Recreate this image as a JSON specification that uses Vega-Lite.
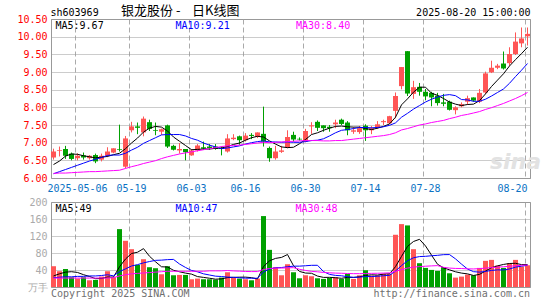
{
"$schema":"https://vega.github.io/schema/vega-lite/v6.json",
"background":"white",
"padding":{"left":16,"top":4,"right":10,"bottom":0},
"config":{"view":{"stroke":"#999999","strokeWidth":1},"font":"DejaVu Sans Mono","axis":{"labelFont":"DejaVu Sans Mono","labelFontSize":10,"ticks":false,"domain":false,"title":null,"gridColor":"#aaaaaa","gridWidth":1,"labelOverlap":false}},
"datasets":{"k":[
{"d":"2025-04-25","o":6.58,"h":6.83,"l":6.52,"c":6.75,"v":48.9,"m5":6.38,"m10":6.12,"m30":6.13,"vm5":26,"vm10":22,"vm30":21},
{"d":"2025-04-28","o":6.77,"h":6.89,"l":6.61,"c":6.79,"v":37.1,"m5":6.48,"m10":6.18,"m30":6.14,"vm5":31,"vm10":23,"vm30":21},
{"d":"2025-04-29","o":6.82,"h":6.91,"l":6.54,"c":6.63,"v":42.5,"m5":6.62,"m10":6.24,"m30":6.14,"vm5":35,"vm10":24,"vm30":21},
{"d":"2025-04-30","o":6.69,"h":6.72,"l":6.50,"c":6.54,"v":22.9,"m5":6.68,"m10":6.30,"m30":6.15,"vm5":36,"vm10":24,"vm30":21},
{"d":"2025-05-06","o":6.56,"h":6.70,"l":6.50,"c":6.63,"v":19.8,"m5":6.67,"m10":6.36,"m30":6.16,"vm5":34.2,"vm10":25,"vm30":21},
{"d":"2025-05-07","o":6.64,"h":6.72,"l":6.52,"c":6.58,"v":22.9,"m5":6.63,"m10":6.42,"m30":6.17,"vm5":29.0,"vm10":25,"vm30":21},
{"d":"2025-05-08","o":6.56,"h":6.65,"l":6.52,"c":6.63,"v":15.8,"m5":6.60,"m10":6.48,"m30":6.18,"vm5":24.8,"vm10":26,"vm30":21},
{"d":"2025-05-09","o":6.65,"h":6.69,"l":6.42,"c":6.47,"v":16.6,"m5":6.57,"m10":6.53,"m30":6.18,"vm5":19.6,"vm10":26,"vm30":21},
{"d":"2025-05-12","o":6.52,"h":6.69,"l":6.47,"c":6.63,"v":24.5,"m5":6.59,"m10":6.58,"m30":6.19,"vm5":19.9,"vm10":27,"vm30":21},
{"d":"2025-05-13","o":6.63,"h":6.87,"l":6.59,"c":6.75,"v":37.1,"m5":6.61,"m10":6.64,"m30":6.20,"vm5":23.4,"vm10":28.8,"vm30":21},
{"d":"2025-05-14","o":6.72,"h":6.84,"l":6.70,"c":6.84,"v":22.9,"m5":6.66,"m10":6.65,"m30":6.21,"vm5":23.4,"vm10":26.2,"vm30":22},
{"d":"2025-05-15","o":6.82,"h":7.51,"l":6.75,"c":6.80,"v":136.2,"m5":6.70,"m10":6.65,"m30":6.22,"vm5":47.5,"vm10":36.1,"vm30":26},
{"d":"2025-05-16","o":6.32,"h":7.19,"l":6.27,"c":7.12,"v":108.7,"m5":6.83,"m10":6.70,"m30":6.27,"vm5":65.9,"vm10":42.7,"vm30":29},
{"d":"2025-05-19","o":7.35,"h":7.59,"l":7.29,"c":7.46,"v":89.0,"m5":6.99,"m10":6.79,"m30":6.32,"vm5":78.8,"vm10":49.4,"vm30":31},
{"d":"2025-05-20","o":7.46,"h":7.57,"l":7.24,"c":7.42,"v":52.0,"m5":7.13,"m10":6.87,"m30":6.36,"vm5":81.8,"vm10":52.6,"vm30":32},
{"d":"2025-05-21","o":7.29,"h":7.74,"l":7.18,"c":7.68,"v":65.4,"m5":7.30,"m10":6.98,"m30":6.41,"vm5":90.3,"vm10":56.8,"vm30":33},
{"d":"2025-05-22","o":7.58,"h":7.65,"l":7.33,"c":7.39,"v":46.5,"m5":7.41,"m10":7.06,"m30":6.45,"vm5":72.3,"vm10":59.9,"vm30":34},
{"d":"2025-05-23","o":7.35,"h":7.57,"l":7.21,"c":7.33,"v":44.2,"m5":7.46,"m10":7.14,"m30":6.49,"vm5":59.4,"vm10":62.7,"vm30":35},
{"d":"2025-05-26","o":7.31,"h":7.40,"l":7.22,"c":7.38,"v":30.0,"m5":7.44,"m10":7.22,"m30":6.55,"vm5":47.6,"vm10":63.2,"vm30":36},
{"d":"2025-05-27","o":7.49,"h":7.51,"l":6.85,"c":6.89,"v":48.9,"m5":7.33,"m10":7.23,"m30":6.60,"vm5":47.0,"vm10":64.4,"vm30":37},
{"d":"2025-05-28","o":6.91,"h":6.94,"l":6.78,"c":6.80,"v":27.6,"m5":7.16,"m10":7.23,"m30":6.64,"vm5":39.4,"vm10":64.9,"vm30":37},
{"d":"2025-05-29","o":6.78,"h":6.99,"l":6.69,"c":6.82,"v":28.4,"m5":7.04,"m10":7.23,"m30":6.68,"vm5":35.8,"vm10":54.1,"vm30":37},
{"d":"2025-05-30","o":6.82,"h":6.82,"l":6.50,"c":6.73,"v":28.4,"m5":6.92,"m10":7.19,"m30":6.71,"vm5":32.7,"vm10":46.0,"vm30":37},
{"d":"2025-06-03","o":6.64,"h":6.82,"l":6.63,"c":6.78,"v":18.2,"m5":6.80,"m10":7.12,"m30":6.74,"vm5":30.3,"vm10":39.0,"vm30":37},
{"d":"2025-06-04","o":6.78,"h":6.96,"l":6.75,"c":6.92,"v":19.8,"m5":6.81,"m10":7.07,"m30":6.77,"vm5":24.5,"vm10":35.7,"vm30":37},
{"d":"2025-06-05","o":6.87,"h":7.03,"l":6.80,"c":6.83,"v":18.2,"m5":6.82,"m10":6.99,"m30":6.80,"vm5":22.6,"vm10":31.0,"vm30":37},
{"d":"2025-06-06","o":6.89,"h":6.96,"l":6.80,"c":6.85,"v":18.2,"m5":6.82,"m10":6.93,"m30":6.83,"vm5":20.6,"vm10":28.2,"vm30":38},
{"d":"2025-06-09","o":6.89,"h":6.96,"l":6.80,"c":6.82,"v":17.4,"m5":6.84,"m10":6.88,"m30":6.86,"vm5":18.4,"vm10":25.5,"vm30":38},
{"d":"2025-06-10","o":6.85,"h":6.89,"l":6.64,"c":6.82,"v":22.1,"m5":6.85,"m10":6.83,"m30":6.89,"vm5":19.1,"vm10":24.7,"vm30":38},
{"d":"2025-06-11","o":6.75,"h":7.24,"l":6.72,"c":7.12,"v":34.7,"m5":6.89,"m10":6.85,"m30":6.91,"vm5":22.1,"vm10":23.3,"vm30":38.8},
{"d":"2025-06-12","o":7.10,"h":7.24,"l":7.07,"c":7.14,"v":21.3,"m5":6.95,"m10":6.88,"m30":6.92,"vm5":22.7,"vm10":22.7,"vm30":37.9},
{"d":"2025-06-13","o":7.18,"h":7.20,"l":6.94,"c":7.07,"v":19.8,"m5":6.99,"m10":6.91,"m30":6.93,"vm5":23.1,"vm10":21.8,"vm30":37.3},
{"d":"2025-06-16","o":7.07,"h":7.27,"l":7.03,"c":7.20,"v":18.2,"m5":7.07,"m10":6.96,"m30":6.95,"vm5":23.2,"vm10":20.8,"vm30":36.5},
{"d":"2025-06-17","o":7.22,"h":7.27,"l":7.10,"c":7.19,"v":15.8,"m5":7.14,"m10":7.00,"m30":6.97,"vm5":22.0,"vm10":20.6,"vm30":36.3},
{"d":"2025-06-18","o":7.16,"h":7.29,"l":7.13,"c":7.29,"v":19.8,"m5":7.18,"m10":7.03,"m30":6.99,"vm5":19.0,"vm10":20.6,"vm30":36.3},
{"d":"2025-06-19","o":7.25,"h":8.02,"l":6.89,"c":7.03,"v":166.9,"m5":7.16,"m10":7.05,"m30":7.01,"vm5":48.1,"vm10":35.4,"vm30":41.1},
{"d":"2025-06-20","o":6.85,"h":6.89,"l":6.46,"c":6.56,"v":87.4,"m5":7.05,"m10":7.02,"m30":7.00,"vm5":61.6,"vm10":42.3,"vm30":43.5},
{"d":"2025-06-23","o":6.56,"h":6.91,"l":6.52,"c":6.75,"v":46.5,"m5":6.96,"m10":7.02,"m30":7.01,"vm5":67.3,"vm10":45.3,"vm30":44.5},
{"d":"2025-06-24","o":6.74,"h":6.91,"l":6.71,"c":6.78,"v":27.6,"m5":6.88,"m10":7.01,"m30":7.02,"vm5":69.6,"vm10":45.8,"vm30":44.6},
{"d":"2025-06-25","o":6.87,"h":7.35,"l":6.84,"c":7.16,"v":53.6,"m5":6.86,"m10":7.02,"m30":7.03,"vm5":76.4,"vm10":47.7,"vm30":45.1},
{"d":"2025-06-26","o":7.22,"h":7.31,"l":7.03,"c":7.09,"v":34.7,"m5":6.87,"m10":7.01,"m30":7.04,"vm5":50.0,"vm10":49.0,"vm30":45.5},
{"d":"2025-06-27","o":7.11,"h":7.15,"l":7.06,"c":7.09,"v":20.5,"m5":6.97,"m10":7.01,"m30":7.05,"vm5":36.6,"vm10":49.1,"vm30":41.7},
{"d":"2025-06-30","o":7.03,"h":7.39,"l":7.01,"c":7.33,"v":27.6,"m5":7.09,"m10":7.03,"m30":7.06,"vm5":32.8,"vm10":50.0,"vm30":39.0},
{"d":"2025-07-01","o":7.46,"h":7.58,"l":7.25,"c":7.49,"v":25.3,"m5":7.23,"m10":7.06,"m30":7.06,"vm5":32.3,"vm10":51.0,"vm30":36.8},
{"d":"2025-07-02","o":7.59,"h":7.63,"l":7.33,"c":7.42,"v":20.5,"m5":7.28,"m10":7.07,"m30":7.06,"vm5":25.7,"vm10":51.1,"vm30":35.8},
{"d":"2025-07-03","o":7.49,"h":7.49,"l":7.31,"c":7.41,"v":19.0,"m5":7.35,"m10":7.11,"m30":7.05,"vm5":22.6,"vm10":36.3,"vm30":34.2},
{"d":"2025-07-04","o":7.45,"h":7.50,"l":7.31,"c":7.41,"v":21.3,"m5":7.41,"m10":7.19,"m30":7.05,"vm5":22.7,"vm10":29.7,"vm30":33.4},
{"d":"2025-07-07","o":7.52,"h":7.65,"l":7.41,"c":7.57,"v":22.9,"m5":7.46,"m10":7.28,"m30":7.06,"vm5":21.8,"vm10":27.3,"vm30":32.7},
{"d":"2025-07-08","o":7.65,"h":7.68,"l":7.50,"c":7.53,"v":19.0,"m5":7.47,"m10":7.35,"m30":7.06,"vm5":20.5,"vm10":26.4,"vm30":32.3},
{"d":"2025-07-09","o":7.57,"h":7.61,"l":7.21,"c":7.35,"v":30.8,"m5":7.45,"m10":7.37,"m30":7.08,"vm5":22.6,"vm10":24.2,"vm30":31.7},
{"d":"2025-07-10","o":7.31,"h":7.44,"l":7.25,"c":7.35,"v":19.0,"m5":7.44,"m10":7.40,"m30":7.10,"vm5":22.6,"vm10":22.6,"vm30":31.4},
{"d":"2025-07-11","o":7.30,"h":7.47,"l":7.25,"c":7.41,"v":27.6,"m5":7.44,"m10":7.43,"m30":7.12,"vm5":23.9,"vm10":23.3,"vm30":31.4},
{"d":"2025-07-14","o":7.48,"h":7.52,"l":7.05,"c":7.35,"v":39.4,"m5":7.40,"m10":7.43,"m30":7.14,"vm5":27.2,"vm10":24.5,"vm30":31.8},
{"d":"2025-07-15","o":7.35,"h":7.47,"l":7.24,"c":7.41,"v":26.8,"m5":7.37,"m10":7.42,"m30":7.16,"vm5":28.7,"vm10":24.6,"vm30":32.1},
{"d":"2025-07-16","o":7.42,"h":7.61,"l":7.39,"c":7.52,"v":27.6,"m5":7.41,"m10":7.43,"m30":7.18,"vm5":28.1,"vm10":25.3,"vm30":32.3},
{"d":"2025-07-17","o":7.58,"h":7.65,"l":7.50,"c":7.61,"v":30.8,"m5":7.46,"m10":7.45,"m30":7.20,"vm5":30.4,"vm10":26.5,"vm30":32.7},
{"d":"2025-07-18","o":7.55,"h":7.76,"l":7.52,"c":7.75,"v":30.8,"m5":7.53,"m10":7.49,"m30":7.23,"vm5":31.1,"vm10":27.5,"vm30":33.2},
{"d":"2025-07-21","o":7.90,"h":8.42,"l":7.69,"c":8.32,"v":122.9,"m5":7.72,"m10":7.56,"m30":7.28,"vm5":47.8,"vm10":37.5,"vm30":36.7},
{"d":"2025-07-22","o":8.60,"h":9.14,"l":8.51,"c":9.14,"v":148.0,"m5":8.07,"m10":7.72,"m30":7.36,"vm5":72.0,"vm10":50.4,"vm30":40.9},
{"d":"2025-07-23","o":9.59,"h":9.59,"l":8.32,"c":8.39,"v":144.9,"m5":8.24,"m10":7.83,"m30":7.40,"vm5":95.5,"vm10":61.8,"vm30":44.5},
{"d":"2025-07-24","o":8.38,"h":8.75,"l":8.24,"c":8.57,"v":89.0,"m5":8.43,"m10":7.95,"m30":7.45,"vm5":107.1,"vm10":68.8,"vm30":46.8},
{"d":"2025-07-25","o":8.58,"h":8.69,"l":8.33,"c":8.44,"v":56.0,"m5":8.57,"m10":8.05,"m30":7.50,"vm5":112.2,"vm10":71.6,"vm30":48.0},
{"d":"2025-07-28","o":8.44,"h":8.52,"l":8.20,"c":8.31,"v":44.9,"m5":8.57,"m10":8.15,"m30":7.53,"vm5":96.6,"vm10":72.2,"vm30":48.9},
{"d":"2025-07-29","o":8.41,"h":8.44,"l":8.03,"c":8.28,"v":40.2,"m5":8.40,"m10":8.23,"m30":7.57,"vm5":75.0,"vm10":73.5,"vm30":49.7},
{"d":"2025-07-30","o":8.33,"h":8.41,"l":8.05,"c":8.12,"v":37.9,"m5":8.34,"m10":8.29,"m30":7.60,"vm5":53.6,"vm10":74.5,"vm30":50.3},
{"d":"2025-07-31","o":8.14,"h":8.38,"l":8.03,"c":8.10,"v":46.5,"m5":8.25,"m10":8.34,"m30":7.63,"vm5":45.1,"vm10":76.1,"vm30":46.3},
{"d":"2025-08-01","o":8.16,"h":8.19,"l":7.91,"c":7.93,"v":32.3,"m5":8.15,"m10":8.36,"m30":7.68,"vm5":40.4,"vm10":76.3,"vm30":44.5},
{"d":"2025-08-04","o":7.92,"h":8.03,"l":7.80,"c":8.00,"v":22.1,"m5":8.09,"m10":8.33,"m30":7.72,"vm5":35.8,"vm10":66.2,"vm30":43.7},
{"d":"2025-08-05","o":8.03,"h":8.14,"l":8.00,"c":8.09,"v":24.5,"m5":8.05,"m10":8.22,"m30":7.77,"vm5":32.7,"vm10":53.8,"vm30":43.5},
{"d":"2025-08-06","o":8.16,"h":8.33,"l":8.07,"c":8.26,"v":29.2,"m5":8.08,"m10":8.21,"m30":7.80,"vm5":30.9,"vm10":42.3,"vm30":42.7},
{"d":"2025-08-07","o":8.28,"h":8.28,"l":8.16,"c":8.19,"v":27.6,"m5":8.09,"m10":8.17,"m30":7.84,"vm5":27.1,"vm10":36.1,"vm30":42.5},
{"d":"2025-08-08","o":8.16,"h":8.52,"l":8.12,"c":8.41,"v":44.9,"m5":8.19,"m10":8.17,"m30":7.88,"vm5":29.7,"vm10":35.0,"vm30":43.3},
{"d":"2025-08-11","o":8.42,"h":9.01,"l":8.38,"c":8.96,"v":61.5,"m5":8.38,"m10":8.23,"m30":7.94,"vm5":37.5,"vm10":36.7,"vm30":44.4},
{"d":"2025-08-12","o":8.99,"h":9.32,"l":8.97,"c":9.12,"v":63.8,"m5":8.59,"m10":8.32,"m30":7.99,"vm5":45.4,"vm10":39.0,"vm30":45.7},
{"d":"2025-08-13","o":9.12,"h":9.23,"l":9.08,"c":9.18,"v":50.5,"m5":8.77,"m10":8.42,"m30":8.05,"vm5":49.7,"vm10":40.3,"vm30":46.7},
{"d":"2025-08-14","o":9.24,"h":9.58,"l":9.07,"c":9.10,"v":44.9,"m5":8.95,"m10":8.52,"m30":8.11,"vm5":53.1,"vm10":40.1,"vm30":47.6},
{"d":"2025-08-15","o":9.25,"h":9.70,"l":9.18,"c":9.51,"v":56.0,"m5":9.17,"m10":8.68,"m30":8.18,"vm5":55.3,"vm10":42.5,"vm30":48.7},
{"d":"2025-08-18","o":9.51,"h":10.12,"l":9.48,"c":9.86,"v":63.8,"m5":9.35,"m10":8.87,"m30":8.25,"vm5":55.8,"vm10":46.7,"vm30":50.1},
{"d":"2025-08-19","o":9.81,"h":10.26,"l":9.70,"c":9.95,"v":48.1,"m5":9.52,"m10":9.05,"m30":8.33,"vm5":52.7,"vm10":49.0,"vm30":51.1},
{"d":"2025-08-20","o":10.01,"h":10.26,"l":9.75,"c":10.08,"v":51.2,"m5":9.70,"m10":9.24,"m30":8.42,"vm5":52.8,"vm10":51.2,"vm30":51.8}
]},
"data":{"name":"k"},
"bounds":"flush",
"spacing":24,
"vconcat":[
{"width":479,"height":159,
 "encoding":{"x":{"field":"d","type":"ordinal","scale":{"paddingInner":0.1667,"paddingOuter":0},
   "axis":{"values":["2025-05-06","2025-05-19","2025-06-03","2025-06-16","2025-06-30","2025-07-14","2025-07-28","2025-08-20"],
     "labelExpr":"datum.value == '2025-05-06' ? datum.value : slice(datum.value, 5)","bandPosition":0,"grid":true,"gridDash":[5,3],
     "labelColor":"#0b72c4","labelPadding":5,"labelFlush":8,"labelAngle":0,"labelOverlap":false}}},
 "layer":[
  {"mark":{"type":"rule","strokeWidth":1},
   "encoding":{"y":{"field":"l","type":"quantitative","scale":{"domain":[6,10.5],"nice":false,"zero":false},
      "axis":{"values":[6,6.5,7,7.5,8,8.5,9,9.5,10,10.5],"format":".2f","labelColor":"#ff0000","grid":true,"gridDash":[1,1],"gridColor":"#999999","labelPadding":4,"title":null,"labelOverlap":false,"labelBound":false}},
     "y2":{"field":"h"},
     "color":{"condition":{"test":"datum.c >= datum.o","value":"#ff5555"},"value":"#00a000"}}},
  {"mark":{"type":"bar"},
   "encoding":{"y":{"field":"o","type":"quantitative","axis":{"values":[6,6.5,7,7.5,8,8.5,9,9.5,10,10.5],"format":".2f","labelColor":"#ff0000","grid":true,"gridDash":[1,1],"gridColor":"#999999","labelPadding":4,"title":null,"labelOverlap":false,"labelBound":false}},"y2":{"field":"c"},
     "color":{"condition":{"test":"datum.c >= datum.o","value":"#ff5555"},"value":"#00a000"}}},
  {"mark":{"type":"line","strokeWidth":1,"color":"#000000"},"encoding":{"y":{"field":"m5","type":"quantitative","axis":{"values":[6,6.5,7,7.5,8,8.5,9,9.5,10,10.5],"format":".2f","labelColor":"#ff0000","grid":true,"gridDash":[1,1],"gridColor":"#999999","labelPadding":4,"title":null,"labelOverlap":false,"labelBound":false}}}},
  {"mark":{"type":"line","strokeWidth":1,"color":"#0000ff"},"encoding":{"y":{"field":"m10","type":"quantitative","axis":{"values":[6,6.5,7,7.5,8,8.5,9,9.5,10,10.5],"format":".2f","labelColor":"#ff0000","grid":true,"gridDash":[1,1],"gridColor":"#999999","labelPadding":4,"title":null,"labelOverlap":false,"labelBound":false}}}},
  {"mark":{"type":"line","strokeWidth":1,"color":"#ff00ff"},"encoding":{"y":{"field":"m30","type":"quantitative","axis":{"values":[6,6.5,7,7.5,8,8.5,9,9.5,10,10.5],"format":".2f","labelColor":"#ff0000","grid":true,"gridDash":[1,1],"gridColor":"#999999","labelPadding":4,"title":null,"labelOverlap":false,"labelBound":false}}}},
  {"data":{"values":[{"t":"MA5:9.67"}]},"mark":{"type":"text","align":"left","baseline":"top","dx":2,"dy":2,"fontSize":10,"color":"#000000"},
   "encoding":{"x":{"datum":"2025-04-25","type":"ordinal"},"y":{"datum":10.5,"type":"quantitative","axis":{"values":[6,6.5,7,7.5,8,8.5,9,9.5,10,10.5],"format":".2f","labelColor":"#ff0000","grid":true,"gridDash":[1,1],"gridColor":"#999999","labelPadding":4,"title":null,"labelOverlap":false,"labelBound":false}},"text":{"field":"t"}}},
  {"data":{"values":[{"t":"MA10:9.21"}]},"mark":{"type":"text","align":"left","baseline":"top","dx":-4,"dy":2,"fontSize":10,"color":"#0000ff"},
   "encoding":{"x":{"datum":"2025-05-29","type":"ordinal"},"y":{"datum":10.5,"type":"quantitative","axis":{"values":[6,6.5,7,7.5,8,8.5,9,9.5,10,10.5],"format":".2f","labelColor":"#ff0000","grid":true,"gridDash":[1,1],"gridColor":"#999999","labelPadding":4,"title":null,"labelOverlap":false,"labelBound":false}},"text":{"field":"t"}}},
  {"data":{"values":[{"t":"MA30:8.40"}]},"mark":{"type":"text","align":"left","baseline":"top","dx":-3.5,"dy":2,"fontSize":10,"color":"#ff00ff"},
   "encoding":{"x":{"datum":"2025-06-27","type":"ordinal"},"y":{"datum":10.5,"type":"quantitative","axis":{"values":[6,6.5,7,7.5,8,8.5,9,9.5,10,10.5],"format":".2f","labelColor":"#ff0000","grid":true,"gridDash":[1,1],"gridColor":"#999999","labelPadding":4,"title":null,"labelOverlap":false,"labelBound":false}},"text":{"field":"t"}}},
  {"data":{"values":[{"t":"sh603969"}]},"mark":{"type":"text","align":"left","baseline":"alphabetic","dx":-3,"dy":-3,"fontSize":10,"color":"#000000"},
   "encoding":{"x":{"datum":"2025-04-25","type":"ordinal"},"y":{"datum":10.5,"type":"quantitative","axis":{"values":[6,6.5,7,7.5,8,8.5,9,9.5,10,10.5],"format":".2f","labelColor":"#ff0000","grid":true,"gridDash":[1,1],"gridColor":"#999999","labelPadding":4,"title":null,"labelOverlap":false,"labelBound":false}},"text":{"field":"t"}}},
  {"data":{"values":[{"t":"银龙股份\u00a0-\u00a0\u00a0\u00a0\u00a0日K线图"}]},"mark":{"type":"text","align":"left","baseline":"alphabetic","dx":1.5,"dy":-4,"fontSize":13,"font":"Noto Sans CJK SC","color":"#000000"},
   "encoding":{"x":{"datum":"2025-05-15","type":"ordinal"},"y":{"datum":10.5,"type":"quantitative","axis":{"values":[6,6.5,7,7.5,8,8.5,9,9.5,10,10.5],"format":".2f","labelColor":"#ff0000","grid":true,"gridDash":[1,1],"gridColor":"#999999","labelPadding":4,"title":null,"labelOverlap":false,"labelBound":false}},"text":{"field":"t"}}},
  {"data":{"values":[{"t":"2025-08-20 15:00:00"}]},"mark":{"type":"text","align":"right","baseline":"alphabetic","dx":3,"dy":-3,"fontSize":10,"color":"#000000"},
   "encoding":{"x":{"datum":"2025-08-20","type":"ordinal"},"y":{"datum":10.5,"type":"quantitative","axis":{"values":[6,6.5,7,7.5,8,8.5,9,9.5,10,10.5],"format":".2f","labelColor":"#ff0000","grid":true,"gridDash":[1,1],"gridColor":"#999999","labelPadding":4,"title":null,"labelOverlap":false,"labelBound":false}},"text":{"field":"t"}}},
  {"data":{"values":[{"t":"sina"}]},"mark":{"type":"text","align":"center","baseline":"middle","fontSize":22,"font":"DejaVu Sans","fontStyle":"italic","fontWeight":"bold","color":"#e2e2e2"},
   "encoding":{"x":{"datum":"2025-08-18","type":"ordinal"},"y":{"datum":6.45,"type":"quantitative","axis":{"values":[6,6.5,7,7.5,8,8.5,9,9.5,10,10.5],"format":".2f","labelColor":"#ff0000","grid":true,"gridDash":[1,1],"gridColor":"#999999","labelPadding":4,"title":null,"labelOverlap":false,"labelBound":false}},"text":{"field":"t"}}}
 ]},
{"width":479,"height":85,
 "encoding":{"x":{"field":"d","type":"ordinal","scale":{"paddingInner":0.1667,"paddingOuter":0},
   "axis":{"values":["2025-05-06","2025-05-19","2025-06-03","2025-06-16","2025-06-30","2025-07-14","2025-07-28","2025-08-20"],
     "bandPosition":0,"grid":true,"gridDash":[5,3],"labels":false}}},
 "layer":[
  {"mark":{"type":"bar"},
   "encoding":{"y":{"field":"v","type":"quantitative","scale":{"domain":[0,200],"nice":false},
      "axis":{"values":[0,40,80,120,160,200],"labelColor":"#aaaaaa","grid":true,"gridDash":[1,1],"gridColor":"#999999","labelPadding":4,"title":null,"labelOverlap":false,"labelBound":false,"labelExpr":"datum.value == 0 ? '万手' : datum.label"}},
     "color":{"condition":{"test":"datum.c >= datum.o","value":"#ff5555"},"value":"#00a000"}}},
  {"mark":{"type":"line","strokeWidth":1,"color":"#000000"},"encoding":{"y":{"field":"vm5","type":"quantitative","axis":{"values":[0,40,80,120,160,200],"labelColor":"#aaaaaa","grid":true,"gridDash":[1,1],"gridColor":"#999999","labelPadding":4,"title":null,"labelOverlap":false,"labelBound":false,"labelExpr":"datum.value == 0 ? '万手' : datum.label"}}}},
  {"mark":{"type":"line","strokeWidth":1,"color":"#0000ff"},"encoding":{"y":{"field":"vm10","type":"quantitative","axis":{"values":[0,40,80,120,160,200],"labelColor":"#aaaaaa","grid":true,"gridDash":[1,1],"gridColor":"#999999","labelPadding":4,"title":null,"labelOverlap":false,"labelBound":false,"labelExpr":"datum.value == 0 ? '万手' : datum.label"}}}},
  {"mark":{"type":"line","strokeWidth":1,"color":"#ff00ff"},"encoding":{"y":{"field":"vm30","type":"quantitative","axis":{"values":[0,40,80,120,160,200],"labelColor":"#aaaaaa","grid":true,"gridDash":[1,1],"gridColor":"#999999","labelPadding":4,"title":null,"labelOverlap":false,"labelBound":false,"labelExpr":"datum.value == 0 ? '万手' : datum.label"}}}},
  {"data":{"values":[{"t":"MA5:49"}]},"mark":{"type":"text","align":"left","baseline":"top","dx":2,"dy":2,"fontSize":10,"color":"#000000"},
   "encoding":{"x":{"datum":"2025-04-25","type":"ordinal"},"y":{"datum":200,"type":"quantitative","axis":{"values":[0,40,80,120,160,200],"labelColor":"#aaaaaa","grid":true,"gridDash":[1,1],"gridColor":"#999999","labelPadding":4,"title":null,"labelOverlap":false,"labelBound":false,"labelExpr":"datum.value == 0 ? '万手' : datum.label"}},"text":{"field":"t"}}},
  {"data":{"values":[{"t":"MA10:47"}]},"mark":{"type":"text","align":"left","baseline":"top","dx":-4,"dy":2,"fontSize":10,"color":"#0000ff"},
   "encoding":{"x":{"datum":"2025-05-29","type":"ordinal"},"y":{"datum":200,"type":"quantitative","axis":{"values":[0,40,80,120,160,200],"labelColor":"#aaaaaa","grid":true,"gridDash":[1,1],"gridColor":"#999999","labelPadding":4,"title":null,"labelOverlap":false,"labelBound":false,"labelExpr":"datum.value == 0 ? '万手' : datum.label"}},"text":{"field":"t"}}},
  {"data":{"values":[{"t":"MA30:48"}]},"mark":{"type":"text","align":"left","baseline":"top","dx":-4,"dy":2,"fontSize":10,"color":"#ff00ff"},
   "encoding":{"x":{"datum":"2025-06-27","type":"ordinal"},"y":{"datum":200,"type":"quantitative","axis":{"values":[0,40,80,120,160,200],"labelColor":"#aaaaaa","grid":true,"gridDash":[1,1],"gridColor":"#999999","labelPadding":4,"title":null,"labelOverlap":false,"labelBound":false,"labelExpr":"datum.value == 0 ? '万手' : datum.label"}},"text":{"field":"t"}}},
  {"data":{"values":[{"t":"Copyright 2025 SINA.COM"}]},"mark":{"type":"text","align":"left","baseline":"alphabetic","dx":-2.5,"dy":10,"fontSize":10,"color":"#707070"},
   "encoding":{"x":{"datum":"2025-04-25","type":"ordinal"},"y":{"datum":0,"type":"quantitative","axis":{"values":[0,40,80,120,160,200],"labelColor":"#aaaaaa","grid":true,"gridDash":[1,1],"gridColor":"#999999","labelPadding":4,"title":null,"labelOverlap":false,"labelBound":false,"labelExpr":"datum.value == 0 ? '万手' : datum.label"}},"text":{"field":"t"}}},
  {"data":{"values":[{"t":"http://finance.sina.com.cn"}]},"mark":{"type":"text","align":"right","baseline":"alphabetic","dx":2.5,"dy":10,"fontSize":10,"color":"#707070"},
   "encoding":{"x":{"datum":"2025-08-20","type":"ordinal"},"y":{"datum":0,"type":"quantitative","axis":{"values":[0,40,80,120,160,200],"labelColor":"#aaaaaa","grid":true,"gridDash":[1,1],"gridColor":"#999999","labelPadding":4,"title":null,"labelOverlap":false,"labelBound":false,"labelExpr":"datum.value == 0 ? '万手' : datum.label"}},"text":{"field":"t"}}}
 ]}
]
}
